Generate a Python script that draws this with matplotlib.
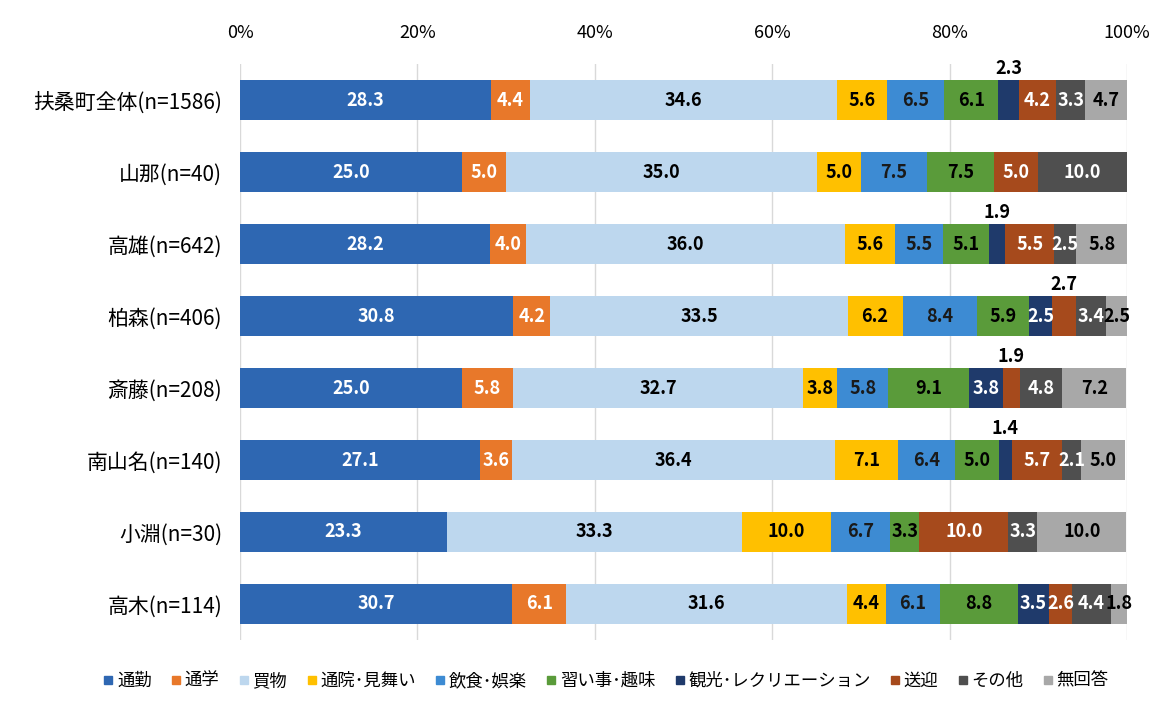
import matplotlib
matplotlib.use("Agg")
import matplotlib.pyplot as plt
import numpy as np
from matplotlib.lines import Line2D

plt.rcParams['font.family'] = ['Noto Sans CJK JP', 'DejaVu Sans']

groups = ["扶桑町全体(n=1586)", "山那(n=40)", "高雄(n=642)", "柏森(n=406)",
          "斎藤(n=208)", "南山名(n=140)", "小淵(n=30)", "高木(n=114)"]
categories = ["通勤", "通学", "買物", "通院･見舞い", "飲食･娯楽", "習い事･趣味",
              "観光･レクリエーション", "送迎", "その他", "無回答"]

commute   = [28.3, 25.0, 28.2, 30.8, 25.0, 27.1, 23.3, 30.7]
school    = [4.4, 5.0, 4.0, 4.2, 5.8, 3.6, 0.0, 6.1]
shopping  = [34.6, 35.0, 36.0, 33.5, 32.7, 36.4, 33.3, 31.6]
hospital  = [5.6, 5.0, 5.6, 6.2, 3.8, 7.1, 10.0, 4.4]
dining    = [6.5, 7.5, 5.5, 8.4, 5.8, 6.4, 6.7, 6.1]
hobby     = [6.1, 7.5, 5.1, 5.9, 9.1, 5.0, 3.3, 8.8]
leisure   = [2.3, 0.0, 1.9, 2.5, 3.8, 1.4, 0.0, 3.5]
pickup    = [4.2, 5.0, 5.5, 2.7, 1.9, 5.7, 10.0, 2.6]
other     = [3.3, 10.0, 2.5, 3.4, 4.8, 2.1, 3.3, 4.4]
noanswer  = [4.7, 0.0, 5.8, 2.5, 7.2, 5.0, 10.0, 1.8]

series = [commute, school, shopping, hospital, dining, hobby, leisure, pickup, other, noanswer]
colors = ["#2E67B2", "#E8782A", "#BDD7EE", "#FFC000", "#3D8BD3", "#5A9B3A",
          "#1F3A6B", "#A64A1C", "#4F4F4F", "#A8A8A8"]
text_colors = ["white", "white", "black", "black", "#1a1a1a", "black",
               "white", "white", "white", "black"]
# (row, series index) labels drawn above the bar
above = {(0, 6), (2, 6), (3, 7), (4, 7), (5, 6)}

fig = plt.figure(figsize=(11.75, 7.13), dpi=100)
ax = fig.add_axes([0.2043, 0.1024, 0.7548, 0.8078])

y = np.arange(len(groups))
left = np.zeros(len(groups))
for si, (vals, c) in enumerate(zip(series, colors)):
    vals = np.array(vals)
    ax.barh(y, vals, left=left, height=0.56, color=c, edgecolor='none', zorder=3)
    for ri, v in enumerate(vals):
        if v <= 0:
            continue
        cx = left[ri] + v / 2
        if (ri, si) in above:
            ax.text(cx, ri - 0.28 - 0.03, f"{v:.1f}", ha='center', va='bottom',
                    fontsize=13, fontweight='bold', color='black', zorder=4)
        else:
            ax.text(cx, ri, f"{v:.1f}", ha='center', va='center',
                    fontsize=13, fontweight='bold', color=text_colors[si], zorder=4)
    left += vals

ax.set_xlim(0, 100)
ax.set_ylim(len(groups) - 0.5, -0.5)
ax.set_yticks(y)
ax.set_yticklabels(groups, fontsize=15)
ax.set_xticks([0, 20, 40, 60, 80, 100])
ax.set_xticklabels(["0%", "20%", "40%", "60%", "80%", "100%"], fontsize=13)
ax.xaxis.tick_top()
ax.tick_params(axis='both', length=0)
ax.tick_params(axis='x', pad=16)
ax.tick_params(axis='y', pad=13)
ax.grid(axis='x', color='#D9D9D9', linewidth=1, zorder=0)
for s in ax.spines.values():
    s.set_visible(False)

handles = [Line2D([0], [0], marker='s', linestyle='none', markersize=6,
                  markerfacecolor=c, markeredgecolor=c) for c in colors]
fig.legend(handles, categories, loc='center', bbox_to_anchor=(0.515, 0.045),
           ncol=10, frameon=False, fontsize=12.5, handletextpad=0.1,
           columnspacing=1.0, handlelength=0.8)

fig.savefig("out.png", dpi=100, facecolor='white')
